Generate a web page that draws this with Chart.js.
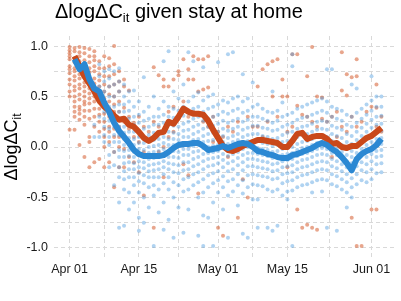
<!DOCTYPE html>
<html>
<head>
<meta charset="utf-8">
<script src="https://cdn.jsdelivr.net/npm/chart.js@4"></script>
<style>
  html, body { margin: 0; padding: 0; background: #fff; }
  canvas { display: block; }
</style>
</head>
<body>
<canvas id="grafico" width="401" height="301"></canvas>
<script>
const FONTE = "'Liberation Sans', Arial, Helvetica, sans-serif";

// eixo x: dias desde 01/abr
const xMaior = [0, 14, 30, 44, 61];
const xRotulos = ["Apr 01", "Apr 15", "May 01", "May 15", "Jun 01"];
const xMenor = [7, 22, 37, 52.5];
const yMaior = [-1, -0.5, 0, 0.5, 1];
const yMenor = [-0.75, -0.25, 0.25, 0.75];

// linhas médias, dia 1 .. 63
const linhaLaranja = [
  0.90, 0.80, 0.70, 0.63, 0.55, 0.46, 0.40, 0.36, 0.31, 0.27,
  0.28, 0.22, 0.20, 0.15, 0.09, 0.06, 0.09, 0.14, 0.15, 0.25,
  0.23, 0.30, 0.38, 0.35, 0.33, 0.33, 0.32, 0.26, 0.17, 0.09,
  0.01, -0.03, -0.04, -0.02, 0.01, 0.03, 0.05, 0.07, 0.07, 0.06,
  0.05, 0.04, 0.00, 0.00, 0.06, 0.13, 0.14, 0.08, 0.10, 0.11,
  0.11, 0.08, 0.03, 0.04, 0.00, -0.01, 0.01, 0.01, 0.05, 0.09,
  0.11, 0.15, 0.19
];
const linhaAzul = [
  0.87, 0.77, 0.82, 0.67, 0.58, 0.55, 0.44, 0.35, 0.24, 0.16,
  0.10, 0.04, -0.03, -0.07, -0.09, -0.09, -0.09, -0.09, -0.08, -0.05,
  -0.01, 0.02, 0.03, 0.03, 0.04, 0.04, 0.01, -0.03, -0.02, -0.01,
  0.01, -0.01, 0.01, 0.03, 0.04, 0.03, 0.00, -0.04, -0.05, -0.07,
  -0.08, -0.10, -0.11, -0.11, -0.08, -0.07, -0.05, -0.03, -0.01, 0.02,
  0.04, 0.02, -0.02, -0.05, -0.10, -0.16, -0.23, -0.12, -0.07, -0.04,
  -0.02, 0.02, 0.08
];

// pontos por dia (índice = dia desde 01/abr)
const pontosLaranja = [
  [0.99, 0.96, 0.93, 0.9, 0.87, 0.8, 0.77, 0.73, 0.67, 0.62, 0.55, 0.5, 0.17],
  [0.98, 0.95, 0.88, 0.84, 0.78, 0.75, 0.7, 0.66, 0.6, 0.56, 0.5, 0.45, 0.4, 0.35, 0.3, 0.17],
  [0.99, 0.94, 0.9, 0.85, 0.8, 0.72, 0.68, 0.62, 0.58, 0.52, 0.47, 0.4, 0.37, 0.33, 0.27, 0.02],
  [0.98, 0.93, 0.86, 0.8, 0.74, 0.7, 0.64, 0.6, 0.55, 0.5, 0.45, 0.42, 0.36, 0.3, 0.22, -0.1],
  [0.97, 0.9, 0.84, 0.78, 0.74, 0.68, 0.62, 0.58, 0.53, 0.48, 0.43, 0.36, 0.28, 0.1, 0.05, -0.2],
  [0.95, 0.9, 0.86, 0.8, 0.75, 0.68, 0.63, 0.58, 0.54, 0.5, 0.45, 0.38, 0.3, 0.2, -0.15],
  [0.85, 0.78, 0.72, 0.66, 0.6, 0.55, 0.5, 0.44, 0.38, 0.32, 0.25, 0.15, -0.12],
  [0.9, 0.78, 0.7, 0.62, 0.55, 0.48, 0.4, 0.33, 0.25, 0.18, 0.1, 0.0, -0.2],
  [0.88, 0.8, 0.7, 0.6, 0.52, 0.45, 0.38, 0.3, 0.2, 0.15, 0.05, -0.15],
  [1.0, 0.82, 0.72, 0.62, 0.5, 0.42, 0.35, 0.25, 0.18, 0.1, -0.05, -0.4],
  [0.75, 0.65, 0.55, 0.45, 0.35, 0.28, 0.2, 0.1, 0.0, -0.2],
  [0.67, 0.6, 0.39, 0.25, 0.12, -0.02, -0.2],
  [0.56, 0.3, 0.18, 0.05, -0.1],
  [0.24, 0.1, -0.15],
  [0.3, 0.05, -0.25],
  [0.2, -0.05, -0.48],
  [0.15, -0.1],
  [0.79, 0.25, -0.8],
  [0.71, 0.2, -0.05],
  [0.67, 0.6, 0.0, -0.3],
  [0.6, 0.35, 0.1],
  [0.67, 0.4, 0.15],
  [0.75, 0.71, 0.28],
  [0.87, 0.45, -0.17],
  [0.77, 0.67, 0.3, -0.28],
  [0.9, 0.67, 0.35],
  [0.87, 0.55, -0.46],
  [0.87, 0.57, 0.25],
  [0.9, 0.59, 0.2],
  [0.3, 0.05],
  [0.15, -0.8],
  [0.1, -0.88],
  [0.2, -0.1],
  [0.15],
  [0.25, -0.7],
  [0.05, -0.32],
  [0.3, -0.5],
  [0.2, 0.0],
  [0.6, 0.2],
  [0.77, 0.1],
  [0.82, 0.25],
  [0.85, 0.5],
  [0.87, 0.3],
  [0.67, 0.5],
  [0.5, 0.15, -0.2],
  [0.92, 0.2],
  [0.92, 0.41, -0.62],
  [0.32, -0.8],
  [0.7, 0.3, -0.77],
  [0.99, 0.25, -0.8],
  [0.5, 0.2, -0.82],
  [0.49, 0.28],
  [0.25, 0.05],
  [0.3, -0.1],
  [0.35, 0.1],
  [0.94, 0.56, 0.2],
  [0.72, 0.51, 0.15],
  [0.69, 0.3, -0.7],
  [0.87, 0.7, 0.2, -0.98],
  [0.25, -0.98],
  [0.35, 0.1],
  [0.4, -0.62],
  [0.62, 0.39, 0.2, -0.62],
  [0.3, 0.15]
];

const pontosAzuis = [
  [], [], [], [], [],
  [0.22, 0.1],
  [0.82, 0.7, 0.6, 0.5, 0.3, 0.1],
  [0.75, 0.65, 0.55, 0.45, 0.35, 0.28, 0.2, 0.12, 0.05],
  [0.77, 0.68, 0.6, 0.5, 0.4, 0.33, 0.26, 0.18, 0.1, 0.02, -0.08, -0.2],
  [0.75, 0.62, 0.5, 0.4, 0.3, 0.2, 0.12, 0.05, -0.05, -0.18, -0.38],
  [0.78, 0.65, 0.55, 0.42, 0.35, 0.28, 0.2, 0.12, 0.05, -0.03, -0.1, -0.2, -0.3, -0.55, -0.8],
  [0.62, 0.5, 0.42, 0.35, 0.28, 0.2, 0.14, 0.08, 0.02, -0.04, -0.1, -0.16, -0.24, -0.32, -0.42, -0.78],
  [0.55, 0.45, 0.36, 0.28, 0.22, 0.15, 0.09, 0.03, -0.03, -0.09, -0.15, -0.22, -0.3, -0.45, -0.62],
  [0.56, 0.4, 0.3, 0.22, 0.15, 0.08, 0.02, -0.05, -0.1, -0.16, -0.22, -0.3, -0.38, -0.55],
  [0.45, 0.32, 0.24, 0.16, 0.1, 0.04, -0.02, -0.08, -0.14, -0.2, -0.26, -0.34, -0.45, -0.7, -0.83],
  [0.69, 0.35, 0.26, 0.18, 0.1, 0.04, -0.03, -0.09, -0.15, -0.21, -0.28, -0.36, -0.5, -0.75],
  [0.4, 0.28, 0.2, 0.12, 0.06, 0.0, -0.06, -0.12, -0.18, -0.24, -0.3, -0.4, -0.6],
  [0.5, 0.3, 0.22, 0.14, 0.07, 0.01, -0.05, -0.11, -0.17, -0.23, -0.3, -0.38, -0.48, -0.98],
  [0.38, 0.3, 0.22, 0.15, 0.08, 0.02, -0.04, -0.1, -0.16, -0.22, -0.3, -0.42, -0.65],
  [0.85, 0.45, 0.32, 0.24, 0.17, 0.1, 0.04, -0.02, -0.08, -0.14, -0.2, -0.27, -0.36, -0.55, -0.82],
  [0.95, 0.4, 0.3, 0.22, 0.15, 0.08, 0.02, -0.04, -0.1, -0.16, -0.22, -0.3, -0.42, -0.72],
  [0.55, 0.38, 0.29, 0.21, 0.14, 0.08, 0.02, -0.04, -0.1, -0.17, -0.25, -0.35, -0.5, -0.9],
  [0.48, 0.36, 0.28, 0.2, 0.13, 0.07, 0.01, -0.05, -0.11, -0.18, -0.26, -0.38, -0.6],
  [0.62, 0.4, 0.31, 0.23, 0.16, 0.1, 0.04, -0.02, -0.08, -0.15, -0.23, -0.32, -0.44, -0.85],
  [0.94, 0.45, 0.34, 0.25, 0.17, 0.1, 0.04, -0.02, -0.08, -0.15, -0.22, -0.3, -0.42, -0.62],
  [0.85, 0.5, 0.38, 0.28, 0.2, 0.13, 0.07, 0.01, -0.05, -0.12, -0.19, -0.27, -0.38],
  [0.54, 0.4, 0.3, 0.22, 0.15, 0.08, 0.02, -0.04, -0.1, -0.17, -0.25, -0.35, -0.5, -0.88],
  [0.79, 0.46, 0.35, 0.26, 0.18, 0.11, 0.05, -0.01, -0.07, -0.14, -0.22, -0.32, -0.45, -0.68, -0.98],
  [0.5, 0.38, 0.28, 0.2, 0.13, 0.06, 0.0, -0.06, -0.12, -0.19, -0.28, -0.4, -0.7],
  [0.52, 0.4, 0.3, 0.21, 0.14, 0.07, 0.01, -0.05, -0.11, -0.18, -0.26, -0.36, -0.55, -0.98],
  [0.84, 0.42, 0.32, 0.23, 0.15, 0.08, 0.02, -0.04, -0.1, -0.16, -0.24, -0.33, -0.45],
  [0.46, 0.35, 0.26, 0.18, 0.11, 0.05, -0.01, -0.07, -0.13, -0.2, -0.29, -0.4, -0.62],
  [0.92, 0.44, 0.33, 0.24, 0.16, 0.09, 0.03, -0.03, -0.09, -0.16, -0.24, -0.34, -0.48, -0.9],
  [0.94, 0.48, 0.36, 0.26, 0.18, 0.11, 0.05, -0.01, -0.07, -0.14, -0.22, -0.32, -0.44],
  [0.5, 0.38, 0.28, 0.2, 0.13, 0.07, 0.01, -0.05, -0.11, -0.18, -0.27, -0.38, -0.58],
  [0.72, 0.45, 0.34, 0.25, 0.17, 0.1, 0.04, -0.02, -0.08, -0.15, -0.23, -0.33, -0.46, -0.86],
  [0.48, 0.36, 0.27, 0.19, 0.12, 0.06, 0.0, -0.06, -0.12, -0.19, -0.28, -0.4, -0.9],
  [0.64, 0.4, 0.3, 0.21, 0.13, 0.06, 0.0, -0.06, -0.12, -0.19, -0.27, -0.37, -0.52],
  [0.42, 0.3, 0.21, 0.13, 0.06, -0.01, -0.07, -0.13, -0.2, -0.28, -0.38, -0.52, -0.8],
  [0.38, 0.28, 0.19, 0.11, 0.04, -0.02, -0.08, -0.14, -0.21, -0.29, -0.39],
  [0.35, 0.26, 0.18, 0.1, 0.03, -0.03, -0.09, -0.15, -0.22, -0.3, -0.42, -0.8],
  [0.55, 0.34, 0.24, 0.16, 0.08, 0.01, -0.05, -0.11, -0.17, -0.24, -0.32, -0.44, -0.83],
  [0.36, 0.26, 0.17, 0.09, 0.02, -0.04, -0.1, -0.16, -0.23, -0.31, -0.42, -0.78],
  [0.44, 0.3, 0.2, 0.12, 0.05, -0.02, -0.08, -0.14, -0.2, -0.27, -0.36, -0.48],
  [0.32, 0.22, 0.14, 0.06, -0.01, -0.07, -0.13, -0.19, -0.26, -0.34, -0.44, -0.52],
  [0.92, 0.8, 0.34, 0.24, 0.15, 0.07, 0.0, -0.06, -0.12, -0.18, -0.25, -0.33, -0.43, -0.98],
  [0.38, 0.27, 0.18, 0.1, 0.03, -0.03, -0.09, -0.15, -0.22, -0.3, -0.4],
  [0.4, 0.29, 0.2, 0.12, 0.05, -0.01, -0.07, -0.13, -0.2, -0.28, -0.38],
  [0.42, 0.3, 0.21, 0.13, 0.06, 0.0, -0.06, -0.12, -0.19, -0.27, -0.37],
  [0.44, 0.32, 0.23, 0.15, 0.08, 0.02, -0.04, -0.1, -0.17, -0.25, -0.35, -0.45],
  [0.46, 0.34, 0.25, 0.17, 0.1, 0.04, -0.02, -0.08, -0.15, -0.23, -0.33],
  [0.48, 0.36, 0.26, 0.18, 0.11, 0.05, -0.01, -0.07, -0.14, -0.22, -0.32, -0.44],
  [0.77, 0.45, 0.34, 0.25, 0.17, 0.1, 0.04, -0.02, -0.08, -0.15, -0.23, -0.33, -0.8],
  [0.77, 0.4, 0.3, 0.21, 0.13, 0.06, 0.0, -0.06, -0.12, -0.19, -0.27, -0.37],
  [0.38, 0.28, 0.19, 0.11, 0.04, -0.02, -0.08, -0.14, -0.21, -0.29, -0.39, -0.83],
  [0.36, 0.26, 0.17, 0.09, 0.02, -0.05, -0.11, -0.17, -0.24, -0.32, -0.42],
  [0.32, 0.22, 0.13, 0.05, -0.02, -0.08, -0.14, -0.2, -0.27, -0.35, -0.45, -0.6],
  [0.62, 0.3, 0.2, 0.11, 0.03, -0.04, -0.1, -0.16, -0.23, -0.31, -0.4, -0.5],
  [0.58, 0.34, 0.24, 0.15, 0.07, 0.0, -0.06, -0.12, -0.19, -0.27, -0.37],
  [0.38, 0.28, 0.19, 0.11, 0.04, -0.02, -0.08, -0.15, -0.23, -0.33],
  [0.42, 0.32, 0.23, 0.15, 0.08, 0.02, -0.04, -0.1, -0.17, -0.25, -0.35],
  [0.7, 0.46, 0.36, 0.27, 0.19, 0.12, 0.05, -0.01, -0.07, -0.14, -0.22, -0.32],
  [0.5, 0.4, 0.3, 0.22, 0.15, 0.08, 0.02, -0.04, -0.1, -0.17, -0.26],
  [0.5, 0.4, 0.31, 0.23, 0.16, 0.09, 0.03, -0.03, -0.09, -0.16, -0.25]
];

// ─── montagem ───────────────────────────────────────────────────────────────

function colunasParaPontos(colunas) {
  const out = [];
  colunas.forEach((vals, dia) => vals.forEach(v => out.push({ x: dia, y: v })));
  return out;
}

function serieParaPontos(serie) {
  return serie.map((v, i) => ({ x: i + 1, y: v }));
}

function ticksFixos(maior, menor) {
  return scale => {
    scale.ticks = [...maior, ...menor].sort((a, b) => a - b).map(v => ({ value: v }));
  };
}

// título e rótulo do eixo y com subscrito "it"
function desenharTexto(ctx, x, y, partes) {
  let cx = x;
  partes.forEach(p => {
    ctx.font = `${p.size}px ${FONTE}`;
    ctx.fillText(p.t, cx, y + (p.dy || 0));
    cx += ctx.measureText(p.t).width;
  });
  return cx - x;
}

function larguraTexto(ctx, partes) {
  return partes.reduce((acc, p) => {
    ctx.font = `${p.size}px ${FONTE}`;
    return acc + ctx.measureText(p.t).width;
  }, 0);
}

const textosPlugin = {
  id: "textos",
  afterDraw(chart) {
    const ctx = chart.ctx;
    ctx.save();
    ctx.fillStyle = "#000";
    ctx.textBaseline = "alphabetic";
    ctx.textAlign = "left";
    desenharTexto(ctx, 55, 18, [
      { t: "ΔlogΔC", size: 20 },
      { t: "it", size: 13, dy: 4 },
      { t: " given stay at home", size: 20 }
    ]);

    const partesY = [
      { t: "ΔlogΔC", size: 18 },
      { t: "it", size: 12, dy: 4 }
    ];
    const w = larguraTexto(ctx, partesY);
    ctx.translate(17, (chart.chartArea.top + chart.chartArea.bottom) / 2);
    ctx.rotate(-Math.PI / 2);
    desenharTexto(ctx, -w / 2, 0, partesY);
    ctx.restore();
  }
};

const grade = { color: "#d9d9d9", lineWidth: 1, drawTicks: false, tickLength: 0 };
const borda = { display: false, dash: [4, 3] };
const fonteTicks = { family: FONTE, size: 12.5 };

new Chart(document.getElementById("grafico"), {
  type: "scatter",
  data: {
    datasets: [
      {
        type: "line",
        data: serieParaPontos(linhaAzul),
        borderColor: "#2b88d3",
        borderWidth: 6,
        pointRadius: 0,
        tension: 0,
        borderJoinStyle: "round",
        order: 0
      },
      {
        type: "line",
        data: serieParaPontos(linhaLaranja),
        borderColor: "#c9481a",
        borderWidth: 6,
        pointRadius: 0,
        tension: 0,
        borderJoinStyle: "round",
        order: 1
      },
      {
        data: colunasParaPontos(pontosAzuis),
        backgroundColor: "rgba(66, 150, 222, 0.42)",
        borderWidth: 0,
        pointRadius: 2,
        order: 2
      },
      {
        data: colunasParaPontos(pontosLaranja),
        backgroundColor: "rgba(214, 92, 48, 0.55)",
        borderWidth: 0,
        pointRadius: 2,
        order: 3
      }
    ]
  },
  options: {
    responsive: false,
    animation: false,
    devicePixelRatio: 1,
    layout: { padding: { top: 36, right: 1, left: 0, bottom: 0 } },
    plugins: { legend: { display: false }, tooltip: { enabled: false } },
    scales: {
      x: {
        type: "linear",
        min: -3.15,
        max: 66.15,
        grid: grade,
        border: borda,
        afterBuildTicks: ticksFixos(xMaior, xMenor),
        afterFit: s => { s.height = 43; },
        ticks: {
          autoSkip: false,
          maxRotation: 0,
          padding: 4,
          color: "#1a1a1a",
          font: fonteTicks,
          callback: v => {
            const i = xMaior.indexOf(v);
            return i >= 0 ? xRotulos[i] : "";
          }
        }
      },
      y: {
        min: -1.1,
        max: 1.1,
        grid: grade,
        border: borda,
        afterBuildTicks: ticksFixos(yMaior, yMenor),
        afterFit: s => { s.width = 54; },
        ticks: {
          autoSkip: false,
          padding: 6,
          color: "#1a1a1a",
          font: fonteTicks,
          callback: v => yMaior.includes(v) ? v.toFixed(1) : ""
        }
      }
    }
  },
  plugins: [textosPlugin]
});
</script>
</body>
</html>
